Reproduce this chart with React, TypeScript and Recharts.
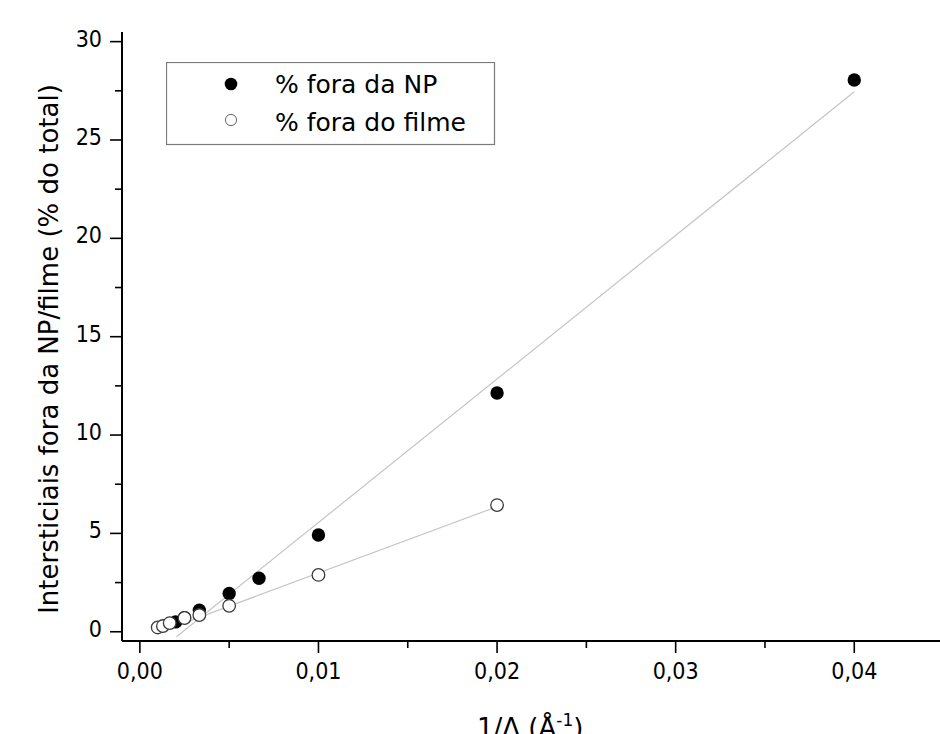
import React from 'react';
import { ComposedChart, Scatter, XAxis, YAxis, Legend } from 'recharts';

// 1/Λ (Å^-1) and % of interstitials outside the NP
const invLambdaNP = [0.002, 0.0025, 0.00333, 0.005, 0.00667, 0.01, 0.02, 0.04];
const pctOutsideNP = [0.5, 0.72, 1.1, 1.95, 2.72, 4.92, 12.14, 28.05];

// 1/Λ (Å^-1) and % of interstitials outside the film
const invLambdaFilm = [0.001, 0.00129, 0.00167, 0.0025, 0.00333, 0.005, 0.01, 0.02];
const pctOutsideFilm = [0.22, 0.29, 0.44, 0.7, 0.85, 1.32, 2.89, 6.44];

// linear fit end points
const fitNPX = [0.00205, 0.04];
const fitNPY = [-0.25, 27.45];
const fitFilmX = [0.001, 0.0198];
const fitFilmY = [-0.05, 6.29];

const xMajorTicks = [0, 0.01, 0.02, 0.03, 0.04];
const xMinorTicks = [0.005, 0.015, 0.025, 0.035];
const yMajorTicks = [0, 5, 10, 15, 20, 25, 30];
const yMinorTicks = [2.5, 7.5, 12.5, 17.5, 22.5, 27.5];

const seriesNames = ['% fora da NP', '% fora do filme'];
const xAxisTitle = '1/\u039B (\u00C5';
const yAxisTitle = 'Intersticiais fora da NP/filme (% do total)';

const toPoints = (xs: number[], ys: number[]) => xs.map((x, i) => ({ x, y: ys[i] }));
const npData = toPoints(invLambdaNP, pctOutsideNP);
const filmData = toPoints(invLambdaFilm, pctOutsideFilm);
const fitNPData = toPoints(fitNPX, fitNPY);
const fitFilmData = toPoints(fitFilmX, fitFilmY);

const allXTicks = [...xMajorTicks, ...xMinorTicks].sort((a, b) => a - b);
const allYTicks = [...yMajorTicks, ...yMinorTicks].sort((a, b) => a - b);

const TICK_FONT = '"DejaVu Sans Condensed", "Liberation Sans", sans-serif';
const MAIN_FONT = '"DejaVu Sans", Verdana, sans-serif';

const XTick = (props: any) => {
  const { x, y, payload } = props;
  const major = xMajorTicks.includes(payload.value);
  return (
    <g>
      <line x1={x} x2={x} y1={y} y2={y + (major ? 12 : 7)} stroke="#000" strokeWidth={1.6} />
      {major && (
        <text x={x} y={y + 38} textAnchor="middle" fontSize={23} fontFamily={TICK_FONT} fill="#000">
          {payload.value.toFixed(2).replace('.', ',')}
        </text>
      )}
    </g>
  );
};

const YTick = (props: any) => {
  const { x, y, payload } = props;
  const major = yMajorTicks.includes(payload.value);
  return (
    <g>
      <line x1={x - (major ? 12 : 7)} x2={x} y1={y} y2={y} stroke="#000" strokeWidth={1.6} />
      {major && (
        <text x={x - 20} y={y + 5} textAnchor="end" fontSize={23} fontFamily={TICK_FONT} fill="#000">
          {String(payload.value)}
        </text>
      )}
    </g>
  );
};

const XLabel = (props: any) => {
  const vb = props.viewBox || { x: 122, y: 641 };
  return (
    <text x={vb.x + 355} y={vb.y + 96} fontSize={26} fontFamily={MAIN_FONT} fill="#000">
      <tspan>{xAxisTitle}</tspan>
      <tspan dy={-11} fontSize={17}>-1</tspan>
      <tspan dy={11}>)</tspan>
    </text>
  );
};

const YLabel = (props: any) => {
  const vb = props.viewBox || { x: 0, y: 32, height: 609 };
  const cx = vb.x + 49;
  const cy = vb.y + 317;
  return (
    <text
      x={cx}
      y={cy}
      transform={`rotate(-90, ${cx}, ${cy})`}
      textAnchor="middle"
      dominantBaseline="central"
      fontSize={26}
      fontFamily={MAIN_FONT}
      fill="#000"
    >
      {yAxisTitle}
    </text>
  );
};

const LegendBox = () => (
  <svg width={330} height={84} style={{ display: 'block' }}>
    <rect x={0.5} y={0.5} width={328} height={82} fill="#fff" stroke="#7a7a7a" strokeWidth={1.2} />
    <circle cx={65} cy={22} r={6.3} fill="#000" />
    <circle cx={65} cy={58} r={5.6} fill="#fff" stroke="#666" strokeWidth={1} />
    <text x={109} y={31} fontSize={25} fontFamily={MAIN_FONT} fill="#000">{seriesNames[0]}</text>
    <text x={109} y={69} fontSize={25} fontFamily={MAIN_FONT} fill="#000">{seriesNames[1]}</text>
  </svg>
);

const FilledDot = (p: any) => <circle cx={p.cx} cy={p.cy} r={6.7} fill="#000" />;
const OpenDot = (p: any) => (
  <circle cx={p.cx} cy={p.cy} r={6.3} fill="#fff" stroke="#3a3a3a" strokeWidth={1.3} />
);
const NoDot = () => <g />;

export default function App() {
  return (
    <div style={{ position: 'absolute', left: 0, top: 0, width: 940, height: 734, background: '#fff' }}>
      <ComposedChart width={940} height={734} margin={{ top: 32, right: 0, bottom: 0, left: 0 }}>
        <XAxis
          type="number"
          dataKey="x"
          domain={[-0.001, 0.0448]}
          allowDataOverflow
          ticks={allXTicks}
          interval={0}
          tick={<XTick />}
          tickLine={false}
          tickSize={0}
          tickMargin={0}
          height={93}
          axisLine={{ stroke: '#000', strokeWidth: 2 }}
          label={<XLabel />}
        />
        <YAxis
          type="number"
          dataKey="y"
          domain={[-0.47, 30.49]}
          allowDataOverflow
          ticks={allYTicks}
          interval={0}
          tick={<YTick />}
          tickLine={false}
          tickSize={0}
          tickMargin={0}
          width={122}
          axisLine={{ stroke: '#000', strokeWidth: 2 }}
          label={<YLabel />}
        />
        <Legend
          layout="horizontal"
          verticalAlign="middle"
          align="center"
          content={<LegendBox />}
          wrapperStyle={{ position: 'absolute', left: 166, top: 62, width: 330, height: 84 }}
        />
        <Scatter
          data={fitNPData}
          line={{ stroke: '#c4c4c4', strokeWidth: 1.2 }}
          shape={<NoDot />}
          legendType="none"
          isAnimationActive={false}
        />
        <Scatter
          data={fitFilmData}
          line={{ stroke: '#c4c4c4', strokeWidth: 1.2 }}
          shape={<NoDot />}
          legendType="none"
          isAnimationActive={false}
        />
        <Scatter name={seriesNames[0]} data={npData} shape={<FilledDot />} isAnimationActive={false} />
        <Scatter name={seriesNames[1]} data={filmData} shape={<OpenDot />} isAnimationActive={false} />
      </ComposedChart>
    </div>
  );
}
